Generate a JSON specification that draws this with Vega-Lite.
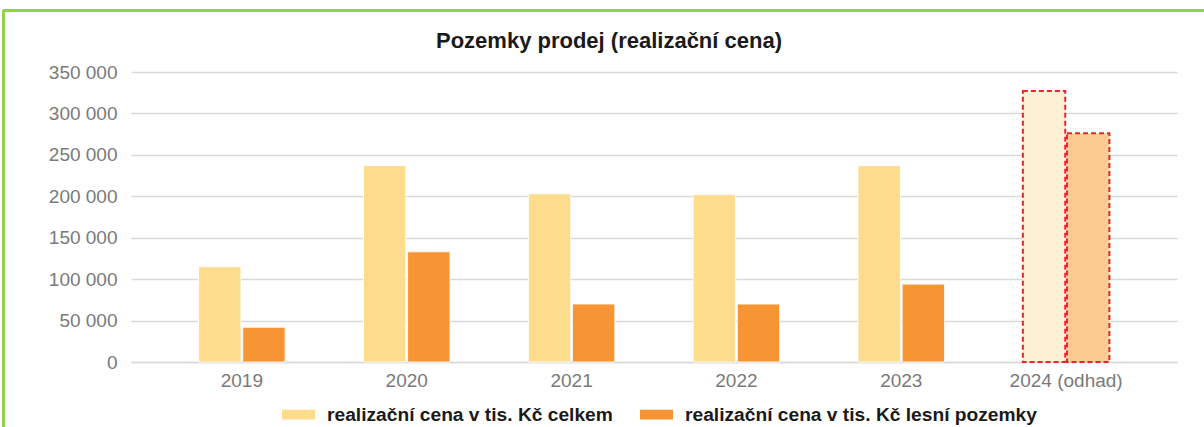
{
  "$schema": "https://vega.github.io/schema/vega-lite/v6.json",
  "autosize": "none",
  "width": 1046,
  "height": 290,
  "padding": {"left": 131, "top": 72, "right": 27, "bottom": 65},
  "background": "white",
  "config": {
    "view": {"stroke": null},
    "font": "Liberation Sans"
  },
  "title": {
    "text": "Pozemky prodej (realizační cena)",
    "font": "Liberation Sans",
    "fontSize": 22,
    "fontWeight": "bold",
    "color": "#1a1a1a",
    "anchor": "middle",
    "baseline": "bottom",
    "dx": -45,
    "dy": 66,
    "offset": 0
  },
  "data": {
    "values": [
      {"rok": "2019", "rada": "realizační cena v tis. Kč celkem", "hodnota": 115000, "odhad": false},
      {"rok": "2019", "rada": "realizační cena v tis. Kč lesní pozemky", "hodnota": 42000, "odhad": false},
      {"rok": "2020", "rada": "realizační cena v tis. Kč celkem", "hodnota": 237000, "odhad": false},
      {"rok": "2020", "rada": "realizační cena v tis. Kč lesní pozemky", "hodnota": 133000, "odhad": false},
      {"rok": "2021", "rada": "realizační cena v tis. Kč celkem", "hodnota": 203000, "odhad": false},
      {"rok": "2021", "rada": "realizační cena v tis. Kč lesní pozemky", "hodnota": 70000, "odhad": false},
      {"rok": "2022", "rada": "realizační cena v tis. Kč celkem", "hodnota": 202000, "odhad": false},
      {"rok": "2022", "rada": "realizační cena v tis. Kč lesní pozemky", "hodnota": 70000, "odhad": false},
      {"rok": "2023", "rada": "realizační cena v tis. Kč celkem", "hodnota": 237000, "odhad": false},
      {"rok": "2023", "rada": "realizační cena v tis. Kč lesní pozemky", "hodnota": 94000, "odhad": false},
      {"rok": "2024 (odhad)", "rada": "realizační cena v tis. Kč celkem", "hodnota": 327000, "odhad": true},
      {"rok": "2024 (odhad)", "rada": "realizační cena v tis. Kč lesní pozemky", "hodnota": 276000, "odhad": true}
    ]
  },
  "layer": [
    {
      "mark": {"type": "bar"},
      "encoding": {
        "x": {
          "field": "rok",
          "type": "nominal",
          "scale": {"paddingInner": 0.475, "paddingOuter": 0.41},
          "axis": {
            "title": null,
            "labelAngle": 0,
            "labelFont": "Liberation Sans",
            "labelFontSize": 19,
            "labelColor": "#7A7A7A",
            "labelPadding": 9,
            "ticks": false,
            "domain": true,
            "domainColor": "#D9D9D9",
            "domainWidth": 1.5
          }
        },
        "xOffset": {
          "field": "rada",
          "type": "nominal",
          "sort": ["realizační cena v tis. Kč celkem", "realizační cena v tis. Kč lesní pozemky"],
          "scale": {"paddingInner": 0.04}
        },
        "y": {
          "field": "hodnota",
          "type": "quantitative",
          "scale": {"domain": [0, 350000], "nice": false, "zero": true},
          "axis": {
            "title": null,
            "values": [0, 50000, 100000, 150000, 200000, 250000, 300000, 350000],
            "labelExpr": "replace(format(datum.value, ','), ',', ' ')",
            "labelFont": "Liberation Sans",
            "labelFontSize": 19,
            "labelColor": "#7A7A7A",
            "labelPadding": 14,
            "ticks": false,
            "domain": false,
            "grid": true,
            "gridColor": "#D9D9D9",
            "gridWidth": 1.5
          }
        },
        "color": {
          "field": "rada",
          "type": "nominal",
          "scale": {
            "domain": ["realizační cena v tis. Kč celkem", "realizační cena v tis. Kč lesní pozemky"],
            "range": ["#FDDC8E", "#F79433"]
          },
          "condition": [
            {"test": "datum.odhad && datum.rada == 'realizační cena v tis. Kč celkem'", "value": "#FEF0D4"},
            {"test": "datum.odhad && datum.rada == 'realizační cena v tis. Kč lesní pozemky'", "value": "#FBCC92"}
          ],
          "legend": {
            "title": null,
            "orient": "none",
            "direction": "horizontal",
            "legendX": 151,
            "legendY": 326,
            "padding": 0,
            "symbolType": "M-1,-0.3H1V0.3H-1Z",
            "symbolSize": 1089,
            "symbolStrokeWidth": 0,
            "symbolOpacity": 1,
            "labelFont": "Liberation Sans",
            "labelFontSize": 19.2,
            "labelFontWeight": "bold",
            "labelColor": "#1a1a1a",
            "labelOffset": 12,
            "labelLimit": 500,
            "columnPadding": 27
          }
        },
        "stroke": {"condition": {"test": "datum.odhad", "value": "#E8262A"}, "value": "#FFFFFF"},
        "strokeWidth": {"condition": {"test": "datum.odhad", "value": 2}, "value": 1},
        "strokeDash": {"condition": {"test": "datum.odhad", "value": [5, 3]}, "value": [1, 0]}
      }
    },
    {
      "mark": {"type": "rule", "color": "#92D050", "strokeWidth": 2.5},
      "encoding": {
        "x": {"datum": "2019", "type": "nominal", "bandPosition": -2.255},
        "y": {"datum": 424000, "type": "quantitative"},
        "y2": {"datum": -100000}
      }
    },
    {
      "mark": {"type": "rule", "color": "#92D050", "strokeWidth": 2.5},
      "encoding": {
        "x": {"datum": "2019", "type": "nominal", "bandPosition": -2.255},
        "x2": {"datum": "2024 (odhad)", "bandPosition": 3},
        "y": {"datum": 424000, "type": "quantitative"}
      }
    }
  ]
}
